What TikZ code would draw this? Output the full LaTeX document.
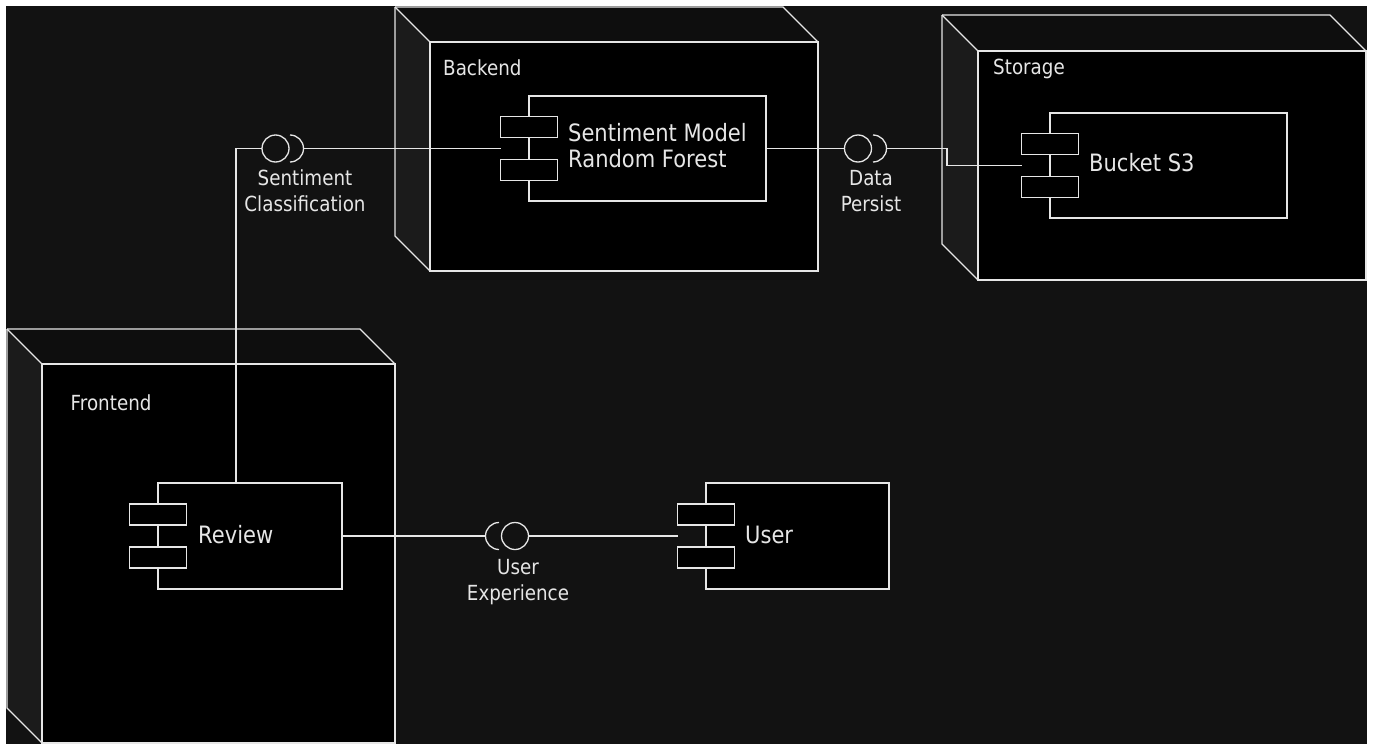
\documentclass[tikz,border=0pt]{standalone}
\usepackage{fontspec}
\setmainfont{DejaVu Sans}[FakeStretch=0.88]
\usetikzlibrary{calc}

\definecolor{paper}{HTML}{FFFFFF}
\definecolor{canvas}{HTML}{121212}
\definecolor{topface}{HTML}{0E0E0E}
\definecolor{sideface}{HTML}{1B1B1B}
\definecolor{ink}{HTML}{E6E6E6}

\tikzset{
  x=1pt, y=-1pt,
  edge/.style={draw=ink, line width=1.3pt},
  outline/.style={draw=ink, line width=1.3pt, line join=miter},
  face/.style={rectangle, draw=ink, fill=black, line width=1.3pt, inner sep=0pt, outer sep=0pt},
  comp/.style={rectangle, draw=ink, fill=black, line width=1.3pt, inner sep=0pt, outer sep=0pt},
  plug/.style={rectangle, draw=ink, fill=black, line width=1.3pt, inner sep=0pt, outer sep=0pt,
               minimum width=57pt, minimum height=21pt},
  ball/.style={circle, draw=ink, line width=1.3pt, inner sep=0pt, outer sep=0pt, minimum size=27pt},
  boxlabel/.style={anchor=base west, inner sep=0pt, text=ink, font=\fontsize{20.8}{26}\selectfont},
  comptext/.style={anchor=base west, inner sep=0pt, text=ink, font=\fontsize{23.9}{30}\selectfont},
  ifacetext/.style={anchor=base, inner sep=0pt, text=ink, font=\fontsize{20.8}{26}\selectfont},
}

% deployment node drawn as a box with depth:
% #1 name, (#2,#3) back top-left corner, (#4,#5) front bottom-right corner, #6 depth
\newcommand\depthbox[6]{%
  \fill[topface] (#2,#3) -- (#4-#6,#3) -- (#4,#3+#6) -- (#2+#6,#3+#6) -- cycle;
  \fill[sideface] (#2,#3) -- (#2+#6,#3+#6) -- (#2+#6,#5) -- (#2,#5-#6) -- cycle;
  \node[face, minimum width={(#4-#2-#6)*1pt}, minimum height={(#5-#3-#6)*1pt}]
    (#1) at ({(#2+#6+#4)/2},{(#3+#6+#5)/2}) {};
  \draw[outline] (#2,#3) -- (#4-#6,#3) -- (#4,#3+#6);
  \draw[outline] (#2,#3) -- (#2+#6,#3+#6);
  \draw[outline] (#2,#3) -- (#2,#5-#6) -- (#2+#6,#5);
}

% UML component: body plus the two small plug rectangles on its left edge
\newcommand\umlcomponent[5]{%
  \node[comp, minimum width=#4pt, minimum height=#5pt] (#1) at (#2,#3) {};
  \node[plug] (#1-a) at ($(#1.west)+(0,-21.5)$) {};
  \node[plug] (#1-b) at ($(#1.west)+(0,21.5)$) {};
  \coordinate (#1-in) at ($(#1.west)+(-28.5,0)$);
}

\begin{document}
\begin{tikzpicture}
  % page and canvas
  \fill[paper] (0,0) rectangle (1373,744);
  \fill[canvas] (6,6) rectangle (1367,744);
  \useasboundingbox (0,0) rectangle (1373,744);

  % deployment nodes
  \depthbox{backend}{395}{7}{818}{271}{35}
  \depthbox{storage}{942}{15}{1366}{280}{36}
  \depthbox{frontend}{7}{329}{395}{743}{35}

  \node[boxlabel] (backend-name) at (443,75.5) {Backend};
  \node[boxlabel] (storage-name) at (993,74.5) {Storage};
  \node[boxlabel] (frontend-name) at (70.5,410.5) {Frontend};

  % components
  \umlcomponent{model}{647.5}{148.5}{237}{105}
  \umlcomponent{bucket}{1168.5}{165.5}{237}{105}
  \umlcomponent{review}{250}{536}{184}{106}
  \umlcomponent{user}{797.5}{536}{183}{106}

  \node[comptext] (model-l1) at (568,141) {Sentiment Model};
  \node[comptext] (model-l2) at (568,167.5) {Random Forest};
  \node[comptext] (bucket-name) at (1089,171.5) {Bucket S3};
  \node[comptext] (review-name) at (198,543.3) {Review};
  \node[comptext] (user-name) at (745,543.3) {User};

  % interface: Sentiment Classification
  \node[ball] (sc-ball) at (275.5,148.5) {};
  \coordinate (sc-sock) at (290,148.5);
  \coordinate (sc-tip) at ($(sc-sock)+(13.5,0)$);
  \draw[edge] ($(sc-sock)+(0,13.5)$) arc[start angle=90, end angle=-90, radius=13.5];
  \coordinate (review-top) at ($(review.north)+(-14,0)$);
  \draw[edge] (review-top) |- (sc-ball.west);
  \draw[edge] (sc-tip) -- (model-in);
  \node[ifacetext] (sc-l1) at (305,185.7) {Sentiment};
  \node[ifacetext] (sc-l2) at (305,211.7) {Classification};

  % interface: Data Persist
  \node[ball] (dp-ball) at (858,148.5) {};
  \coordinate (dp-sock) at (873,148.5);
  \coordinate (dp-tip) at ($(dp-sock)+(13.5,0)$);
  \draw[edge] ($(dp-sock)+(0,13.5)$) arc[start angle=90, end angle=-90, radius=13.5];
  \draw[edge] (model.east) -- (dp-ball.west);
  \draw[edge] (dp-tip) -- ++(60.5,0) |- (bucket-in);
  \node[ifacetext] (dp-l1) at (871,185.5) {Data};
  \node[ifacetext] (dp-l2) at (871,211.5) {Persist};

  % interface: User Experience
  \node[ball] (ux-ball) at (515,536) {};
  \coordinate (ux-sock) at (499,536);
  \coordinate (ux-tip) at ($(ux-sock)+(-13.5,0)$);
  \draw[edge] ($(ux-sock)+(0,13.5)$) arc[start angle=90, end angle=270, radius=13.5];
  \draw[edge] (review.east) -- (ux-tip);
  \draw[edge] (ux-ball.east) -- (user-in);
  \node[ifacetext] (ux-l1) at (518,574) {User};
  \node[ifacetext] (ux-l2) at (518,600.5) {Experience};
\end{tikzpicture}
\end{document}
